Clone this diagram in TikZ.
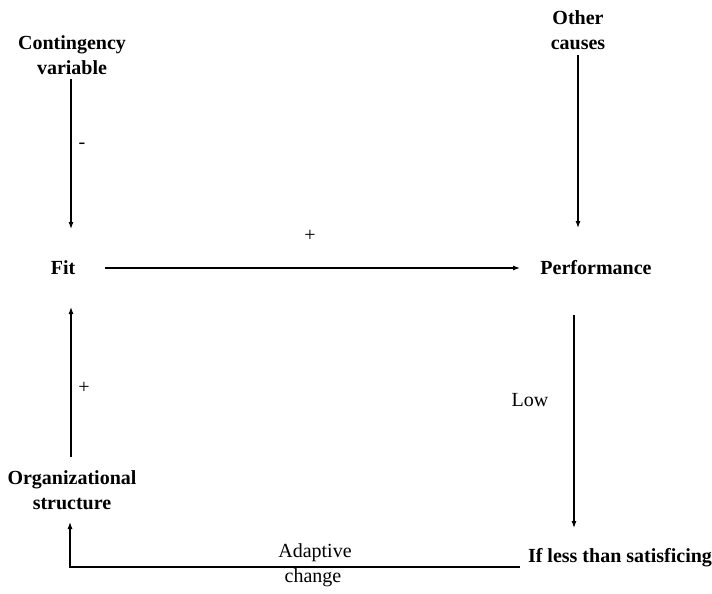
\documentclass[tikz,border=0pt]{standalone}
\usepackage{fontspec}
\setmainfont{Liberation Serif}
\usetikzlibrary{arrows.meta}
\begin{document}
\begin{tikzpicture}[x=1pt,y=-1pt,
  lbl/.style={inner sep=0pt,align=center,font=\fontsize{20}{25}\selectfont\bfseries},
  note/.style={inner sep=0pt,font=\fontsize{20}{25}\selectfont},
  arr/.style={line width=1.1pt,-{Latex[length=7pt,width=5pt]}},
  plain/.style={line width=1.1pt}]
\useasboundingbox (0,0) rectangle (712,594);
\node[lbl] (cv) at (72,55) {Contingency\\variable};
\node[lbl] (oc) at (578,30) {Other\\causes};
\node[lbl] (fit) at (63,268) {Fit};
\node[lbl] (perf) at (596,268) {Performance};
\node[lbl] (os) at (72,490) {Organizational\\structure};
\node[lbl] (ilts) at (620,558) {If less than satisficing};
\node[note] (minus) at (82,146) {-};
\node[note] (plus1) at (310,236) {+};
\node[note] (plus2) at (84,388) {+};
\node[note] (low) at (530,400) {Low};
\node[note] (adapt) at (315,553) {Adaptive};
\node[note] (chg) at (313,578) {change};
% contingency -> fit
\draw[arr,shorten <=24pt,shorten >=39pt] ([xshift=-1pt]cv.center) -- ([xshift=-1pt]cv.center |- fit.center);
% other causes -> performance
\draw[arr,shorten <=25pt,shorten >=40pt] (oc.center) -- (oc.center |- perf.center);
% fit -> performance
\draw[arr,shorten <=42pt,shorten >=76pt] (fit.center) -- (perf.center);
% performance -> if less than satisficing
\draw[arr,shorten <=47pt,shorten >=30pt] ([xshift=-22pt]perf.center) -- ([xshift=-22pt]perf.center |- ilts.center);
% feedback
\draw[arr] ([shift={(-100pt,-9pt)}]ilts.center) -| ([shift={(-2pt,-32pt)}]os.center);
% organizational structure -> fit
\draw[arr,shorten <=33pt,shorten >=39pt] ([xshift=-1pt]os.center) -- ([xshift=-1pt]os.center |- fit.center);
\end{tikzpicture}
\end{document}
